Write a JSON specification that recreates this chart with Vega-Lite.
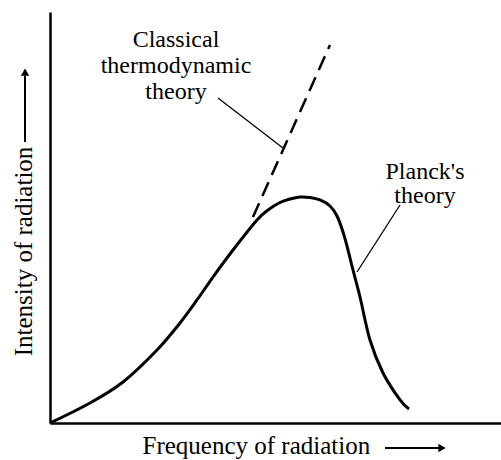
{
  "$schema": "https://vega.github.io/schema/vega-lite/v6.json",
  "width": 451,
  "height": 411,
  "autosize": {"type": "none"},
  "padding": {"left": 50, "top": 12, "right": 0, "bottom": 37},
  "background": "white",
  "config": {
    "view": {"stroke": null},
    "font": "Liberation Serif",
    "axis": {
      "domain": true, "domainColor": "black", "domainWidth": 2.5,
      "ticks": false, "labels": false, "grid": false,
      "titleFont": "Liberation Serif", "titleFontSize": 25, "titleFontWeight": "normal", "titleColor": "black"
    }
  },
  "datasets": {
    "planck": [
      {"x": 0, "y": 0}, {"x": 8.87, "y": 4.87}, {"x": 16.19, "y": 9.98}, {"x": 23.73, "y": 17.76},
      {"x": 28.82, "y": 24.33}, {"x": 32.59, "y": 29.93}, {"x": 36.14, "y": 35.52}, {"x": 40.58, "y": 42.09},
      {"x": 45.9, "y": 49.39}, {"x": 48.34, "y": 51.82}, {"x": 51.0, "y": 53.65}, {"x": 53.22, "y": 54.5}, {"x": 55.43, "y": 54.99},
      {"x": 57.65, "y": 54.87}, {"x": 59.87, "y": 54.26}, {"x": 62.08, "y": 52.8}, {"x": 63.64, "y": 50.36},
      {"x": 64.97, "y": 46.47}, {"x": 66.08, "y": 42.09}, {"x": 67.18, "y": 37.23}, {"x": 68.74, "y": 30.66},
      {"x": 70.95, "y": 20.19}, {"x": 73.84, "y": 12.17}, {"x": 77.61, "y": 5.6}, {"x": 79.6, "y": 3.4}
    ],
    "classical": [{"x": 45.01, "y": 50.12}, {"x": 62.08, "y": 91.97}],
    "leaders": [
      {"x": 37.25, "y": 79.08, "x2": 51.66, "y2": 66.91},
      {"x": 77.61, "y": 53.04, "x2": 68.07, "y2": 36.74}
    ],
    "labels": [
      {"x": 27.94, "y": 91.48, "text": "Classical"},
      {"x": 27.94, "y": 85.16, "text": "thermodynamic"},
      {"x": 27.94, "y": 78.83, "text": "theory"},
      {"x": 83.15, "y": 59.37, "text": "Planck's"},
      {"x": 83.15, "y": 53.53, "text": "theory"}
    ],
    "arrows": [
      {"x": 74.28, "y": -6.08, "x2": 86.5, "y2": -6.08},
      {"x": -5.54, "y": 68.37, "x2": -5.54, "y2": 84.5}
    ],
    "heads": [
      {"x": 86.92, "y": -6.08, "shape": "triangle-right"},
      {"x": -5.54, "y": 85.4, "shape": "triangle-up"}
    ]
  },
  "encoding": {
    "x": {
      "field": "x", "type": "quantitative",
      "scale": {"domain": [0, 100], "nice": false, "zero": false},
      "axis": {"title": "Frequency of radiation", "titleAnchor": "start", "titleAlign": "left", "titleX": 92, "titleY": 30, "titleBaseline": "alphabetic"}
    },
    "y": {
      "field": "y", "type": "quantitative",
      "scale": {"domain": [0, 100], "nice": false, "zero": false},
      "axis": {"title": "Intensity of radiation", "titleAngle": -90, "titleAlign": "center", "titleX": -19, "titleY": 239, "titleBaseline": "alphabetic"}
    }
  },
  "layer": [
    {
      "data": {"name": "planck"},
      "mark": {"type": "line", "interpolate": "cardinal", "color": "black", "strokeWidth": 3}
    },
    {
      "data": {"name": "classical"},
      "mark": {"type": "line", "color": "black", "strokeWidth": 2.5, "strokeDash": [15, 8]}
    },
    {
      "data": {"name": "leaders"},
      "mark": {"type": "rule", "color": "black", "strokeWidth": 1.3},
      "encoding": {"x2": {"field": "x2"}, "y2": {"field": "y2"}}
    },
    {
      "data": {"name": "labels"},
      "mark": {"type": "text", "font": "Liberation Serif", "fontSize": 24, "align": "center", "baseline": "alphabetic", "color": "black"},
      "encoding": {"text": {"field": "text", "type": "nominal"}}
    },
    {
      "data": {"name": "arrows"},
      "mark": {"type": "rule", "color": "black", "strokeWidth": 2},
      "encoding": {"x2": {"field": "x2"}, "y2": {"field": "y2"}}
    },
    {
      "data": {"name": "heads"},
      "mark": {"type": "point", "filled": true, "color": "black", "opacity": 1, "size": 70},
      "encoding": {"shape": {"field": "shape", "type": "nominal", "scale": null}}
    }
  ]
}
